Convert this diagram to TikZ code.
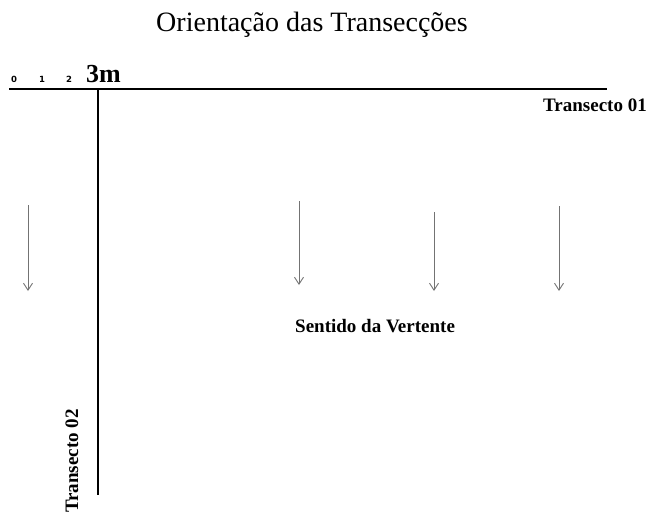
\documentclass[tikz,border=0pt]{standalone}
\usepackage{fontspec}
\setmainfont{Liberation Serif}
\newfontfamily\digitfont{DejaVu Sans}
\usetikzlibrary{arrows.meta}
\begin{document}
\begin{tikzpicture}[x=1pt,y=-1pt,
  lbl/.style={inner sep=0pt,font=\fontsize{19}{19}\selectfont\bfseries},
  tick/.style={inner sep=0pt,anchor=base,font=\digitfont\fontsize{8.5}{8.5}\selectfont\bfseries},
  axisline/.style={line width=2pt,black},
  flow/.style={line width=0.9pt,draw=black!55,-{Straight Barb[length=7pt,width=9pt,line width=0.9pt]}}]
\useasboundingbox (0,0) rectangle (647,515);
% title
\node[inner sep=0pt,anchor=base,font=\fontsize{28}{28}\selectfont] (title) at (312,31) {Orientação das Transecções};
% scale
\node[tick] (s0) at (14,82) {0};
\node[tick] (s1) at (42,82) {1};
\node[tick] (s2) at (69,82) {2};
\node[inner sep=0pt,anchor=base west,font=\fontsize{26}{26}\selectfont\bfseries] (s3) at (86,82) {3m};
% transects
\coordinate (t1a) at (9,89);
\coordinate (t1b) at (607,89);
\coordinate (t2a) at (98,89);
\coordinate (t2b) at (98,495);
\draw[axisline] (t1a) -- (t1b);
\draw[axisline] (t2a) -- (t2b);
\node[lbl,anchor=base west] (lt1) at (543,111) {Transecto 01};
\node[lbl,anchor=base west,rotate=90] (lt2) at (78,513) {Transecto 02};
% slope arrows
\coordinate (a1s) at (28,205); \coordinate (a1e) at (28,291);
\coordinate (a2s) at (299,201); \coordinate (a2e) at (299,285);
\coordinate (a3s) at (434,212); \coordinate (a3e) at (434,291);
\coordinate (a4s) at (559,206); \coordinate (a4e) at (559,291);
\draw[flow] (a1s) -- (a1e);
\draw[flow] (a2s) -- (a2e);
\draw[flow] (a3s) -- (a3e);
\draw[flow] (a4s) -- (a4e);
\node[lbl,anchor=base west] (sv) at (295,332) {Sentido da Vertente};
\end{tikzpicture}
\end{document}
